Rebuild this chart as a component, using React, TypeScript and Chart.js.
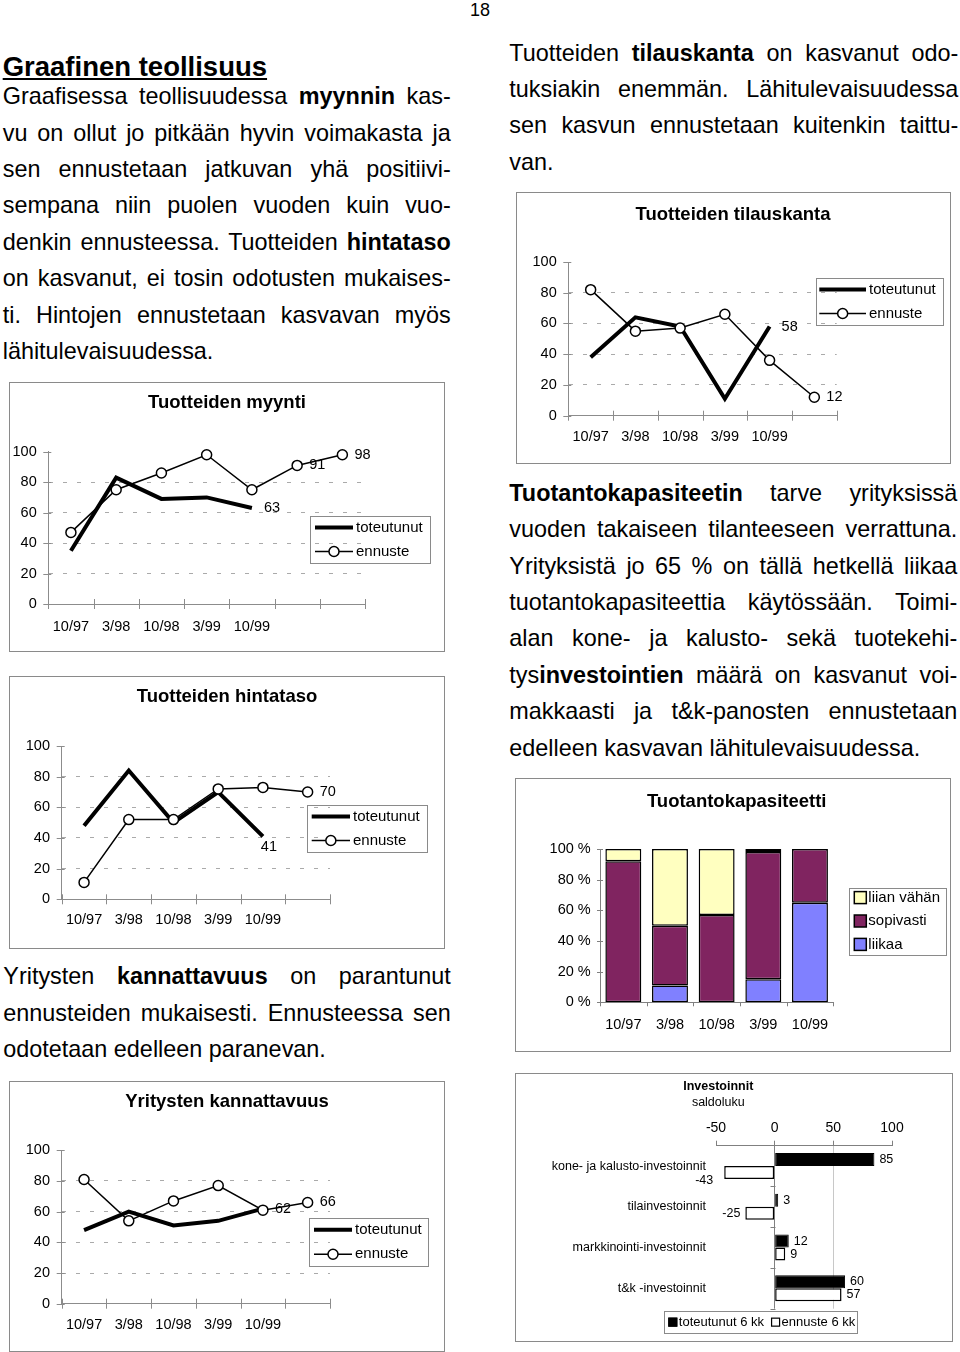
import React, { useEffect, useRef } from 'react';
import { Chart, registerables } from 'chart.js';

Chart.register(...registerables);

const FONT = "'Liberation Sans', Arial, Helvetica, sans-serif";
Chart.defaults.font.family = FONT;
Chart.defaults.color = '#000';

// ---------------- data ----------------
const lineLabels7 = ['10/97', '3/98', '10/98', '3/99', '10/99', '', ''];
const lineLabels6 = ['10/97', '3/98', '10/98', '3/99', '10/99', ''];
const seriesNames = ['toteutunut', 'ennuste'];

const myyntiToteutunut = [35, 83, 69, 70, 63];
const myyntiEnnuste = [47, 75, 86, 98, 75, 91, 98];
const hintaToteutunut = [48, 84, 50, 70, 41];
const hintaEnnuste = [11, 52, 52, 72, 73, 70];
const kannToteutunut = [48, 60, 51, 54, 62];
const kannEnnuste = [81, 54, 67, 77, 61, 66];
const tilausToteutunut = [38, 64, 58, 11, 58];
const tilausEnnuste = [82, 55, 57, 66, 36, 12];

const capCategories = ['10/97', '3/98', '10/98', '3/99', '10/99'];
const capSeries = ['liian vähän', 'sopivasti', 'liikaa'];
const capLiianVahan = [8, 50, 43, 2, 0];
const capSopivasti = [92, 39, 57, 83, 35];
const capLiikaa = [0, 11, 0, 15, 65];

const invCategories = [
  'kone- ja kalusto-investoinnit',
  'tilainvestoinnit',
  'markkinointi-investoinnit',
  't&k -investoinnit',
];
const invSeries = ['toteutunut 6 kk', 'ennuste 6 kk'];
const invToteutunut = [85, 3, 12, 60];
const invEnnuste = [-43, -25, 9, 57];

// which points carry a value label (series index, point index, placement)
const myyntiLabelled = [
  { s: 0, i: 4, pos: 'right' },
  { s: 1, i: 5, pos: 'right' },
  { s: 1, i: 6, pos: 'right' },
];
const hintaLabelled = [
  { s: 0, i: 4, pos: 'below' },
  { s: 1, i: 5, pos: 'right' },
];
const kannLabelled = [
  { s: 0, i: 4, pos: 'right' },
  { s: 1, i: 5, pos: 'right' },
];
const tilausLabelled = [
  { s: 0, i: 4, pos: 'right' },
  { s: 1, i: 5, pos: 'right' },
];

// ---------------- text ----------------
const TEXT_SIZE = 23.4;
const paragraphs = [
  {
    x: 2.7, w: 448, base: 105, step: 36.4,
    lines: [
      'Graafisessa teollisuudessa **myynnin** kas-',
      'vu on ollut jo pitkään hyvin voimakasta ja',
      'sen ennustetaan jatkuvan yhä positiivi-',
      'sempana niin puolen vuoden kuin vuo-',
      'denkin ennusteessa. Tuotteiden **hintataso**',
      'on kasvanut, ei tosin odotusten mukaises-',
      'ti. Hintojen ennustetaan kasvavan myös',
      'lähitulevaisuudessa.',
    ],
  },
  {
    x: 509.3, w: 449, base: 61.7, step: 36.3,
    lines: [
      'Tuotteiden **tilauskanta** on kasvanut odo-',
      'tuksiakin enemmän. Lähitulevaisuudessa',
      'sen kasvun ennustetaan kuitenkin taittu-',
      'van.',
    ],
  },
  {
    x: 509.3, w: 448, base: 501.7, step: 36.4,
    lines: [
      '**Tuotantokapasiteetin** tarve yrityksissä',
      'vuoden takaiseen tilanteeseen verrattuna.',
      'Yrityksistä jo 65 % on tällä hetkellä liikaa',
      'tuotantokapasiteettia käytössään. Toimi-',
      'alan kone- ja kalusto- sekä tuotekehi-',
      'tys**investointien** määrä on kasvanut voi-',
      'makkaasti ja t&k-panosten ennustetaan',
      'edelleen kasvavan lähitulevaisuudessa.',
    ],
  },
  {
    x: 3.3, w: 447.4, base: 985, step: 36.6,
    lines: [
      'Yritysten **kannattavuus** on parantunut',
      'ennusteiden mukaisesti. Ennusteessa sen',
      'odotetaan edelleen paranevan.',
    ],
  },
];

// ---------------- plugins ----------------
const AXIS = '#8c8c8c';
const GRID = '#aaaaaa';

function makeTexts(items: any[]) {
  return {
    id: 'boxTexts',
    afterDraw(chart: any) {
      const ctx = chart.ctx;
      ctx.save();
      ctx.fillStyle = '#000';
      ctx.textAlign = 'center';
      ctx.textBaseline = 'middle';
      for (const t of items) {
        ctx.font = `${t.bold ? 'bold ' : ''}${t.size}px ${FONT}`;
        ctx.fillText(t.text, t.x, t.y);
      }
      ctx.restore();
    },
  };
}

function makeCrossTicks(o: any) {
  return {
    id: 'crossTicks',
    beforeDatasetsDraw(chart: any) {
      const { ctx } = chart;
      const x = chart.scales.x;
      const y = chart.scales.y;
      ctx.save();
      ctx.strokeStyle = o.color;
      ctx.lineWidth = 1;
      ctx.beginPath();
      const n = chart.data.labels.length;
      const step = (x.right - x.left) / n;
      for (let i = 0; i <= n; i++) {
        const px = Math.round(x.left + i * step) + 0.5;
        ctx.moveTo(px, x.top - o.xUp);
        ctx.lineTo(px, x.top + o.xDown);
      }
      for (const t of y.ticks) {
        const py = Math.round(y.getPixelForValue(t.value)) + 0.5;
        ctx.moveTo(y.right - o.yLeft, py);
        ctx.lineTo(y.right + o.yRight, py);
      }
      ctx.stroke();
      ctx.restore();
    },
  };
}

function makeLineLegend(b: any) {
  return {
    id: 'lineLegend',
    afterDraw(chart: any) {
      const ctx = chart.ctx;
      ctx.save();
      ctx.strokeStyle = '#8a8a8a';
      ctx.lineWidth = 1;
      ctx.strokeRect(Math.round(b.x) + 0.5, Math.round(b.y) + 0.5, Math.round(b.w), Math.round(b.h));
      chart.data.datasets.forEach((ds: any, k: number) => {
        const y = b.y + b.h * (k === 0 ? 0.245 : 0.755);
        const x0 = b.x + b.sx;
        const x1 = x0 + b.sample;
        ctx.strokeStyle = '#000';
        ctx.lineWidth = ds.borderWidth;
        ctx.lineCap = 'butt';
        ctx.beginPath();
        ctx.moveTo(x0, y);
        ctx.lineTo(x1, y);
        ctx.stroke();
        if (ds.pointRadius > 0) {
          ctx.beginPath();
          ctx.arc((x0 + x1) / 2, y, ds.pointRadius, 0, Math.PI * 2);
          ctx.fillStyle = '#fff';
          ctx.fill();
          ctx.lineWidth = ds.pointBorderWidth;
          ctx.stroke();
        }
        ctx.fillStyle = '#000';
        ctx.font = `15px ${FONT}`;
        ctx.textAlign = 'left';
        ctx.textBaseline = 'middle';
        ctx.fillText(ds.label, x1 + 3, y);
      });
      ctx.restore();
    },
  };
}

function makePointLabels(items: any[]) {
  return {
    id: 'pointLabels',
    afterDatasetsDraw(chart: any) {
      const ctx = chart.ctx;
      ctx.save();
      ctx.fillStyle = '#000';
      ctx.font = `14.5px ${FONT}`;
      for (const it of items) {
        const el = chart.getDatasetMeta(it.s).data[it.i];
        const v = chart.data.datasets[it.s].data[it.i];
        if (!el) continue;
        if (it.pos === 'below') {
          ctx.textAlign = 'center';
          ctx.textBaseline = 'top';
          ctx.fillText(String(v), el.x + 6, el.y + 3);
        } else {
          ctx.textAlign = 'left';
          ctx.textBaseline = 'middle';
          ctx.fillText(String(v), el.x + 12, el.y);
        }
      }
      ctx.restore();
    },
  };
}

function makeSquareLegendV(b: any) {
  return {
    id: 'squareLegendV',
    afterDraw(chart: any) {
      const ctx = chart.ctx;
      ctx.save();
      ctx.strokeStyle = '#8a8a8a';
      ctx.lineWidth = 1;
      ctx.strokeRect(Math.round(b.x) + 0.5, Math.round(b.y) + 0.5, Math.round(b.w), Math.round(b.h));
      const ds = chart.data.datasets.slice().reverse();
      ds.forEach((d: any, k: number) => {
        const cy = b.y + b.h / 2 + (k - (ds.length - 1) / 2) * b.rowStep;
        const sq = b.square;
        const sx = b.x + b.sx;
        ctx.fillStyle = d.backgroundColor;
        ctx.fillRect(sx, cy - sq / 2, sq, sq);
        ctx.strokeStyle = '#000';
        ctx.lineWidth = 1.5;
        ctx.strokeRect(sx, cy - sq / 2, sq, sq);
        ctx.fillStyle = '#000';
        ctx.font = `${b.size}px ${FONT}`;
        ctx.textAlign = 'left';
        ctx.textBaseline = 'middle';
        ctx.fillText(d.label, sx + sq + 2, cy);
      });
      ctx.restore();
    },
  };
}

function makeSquareLegendH(b: any) {
  return {
    id: 'squareLegendH',
    afterDraw(chart: any) {
      const ctx = chart.ctx;
      ctx.save();
      ctx.strokeStyle = '#8a8a8a';
      ctx.lineWidth = 1;
      ctx.strokeRect(Math.round(b.x) + 0.5, Math.round(b.y) + 0.5, Math.round(b.w), Math.round(b.h));
      ctx.font = `${b.size}px ${FONT}`;
      const cy = b.y + b.h / 2;
      let x = b.x + b.sx;
      chart.data.datasets.forEach((d: any) => {
        const sq = b.square;
        ctx.fillStyle = d.backgroundColor;
        ctx.fillRect(x, cy - sq / 2, sq, sq);
        ctx.strokeStyle = '#000';
        ctx.lineWidth = 1.2;
        ctx.strokeRect(x + 0.5, cy - sq / 2 + 0.5, sq - 1, sq - 1);
        ctx.fillStyle = '#000';
        ctx.textAlign = 'left';
        ctx.textBaseline = 'middle';
        const tx = x + sq + 1.5;
        ctx.fillText(d.label, tx, cy);
        x = tx + ctx.measureText(d.label).width + 7;
      });
      ctx.restore();
    },
  };
}

const barValueLabels = {
  id: 'barValueLabels',
  afterDatasetsDraw(chart: any) {
    const ctx = chart.ctx;
    const area = chart.chartArea;
    ctx.save();
    ctx.fillStyle = '#000';
    ctx.font = `12.5px ${FONT}`;
    chart.data.datasets.forEach((ds: any, d: number) => {
      const meta = chart.getDatasetMeta(d);
      meta.data.forEach((el: any, i: number) => {
        const v = ds.data[i];
        const txt = String(v);
        if (v >= 0) {
          ctx.textAlign = 'left';
          ctx.textBaseline = 'middle';
          ctx.fillText(txt, el.x + 5, el.y);
        } else {
          const wTxt = ctx.measureText(txt).width;
          ctx.textAlign = 'right';
          if (el.x - 5 - wTxt < area.left) {
            // no room beside the bar end: put the label under it
            ctx.textBaseline = 'middle';
            ctx.fillText(txt, el.x - 11, el.y + 8);
          } else {
            ctx.textBaseline = 'middle';
            ctx.fillText(txt, el.x - 5, el.y);
          }
        }
      });
    });
    ctx.restore();
  },
};

const zeroLineTicks = {
  id: 'zeroLineTicks',
  beforeDatasetsDraw(chart: any) {
    const { ctx } = chart;
    const x = chart.scales.x;
    const y = chart.scales.y;
    const x0 = Math.round(x.getPixelForValue(0)) + 0.5;
    const n = chart.data.labels.length;
    const step = (y.bottom - y.top) / n;
    ctx.save();
    ctx.strokeStyle = '#808080';
    ctx.lineWidth = 1;
    ctx.beginPath();
    for (let i = 1; i <= n; i++) {
      const py = Math.round(y.top + i * step) + 0.5;
      ctx.moveTo(x0 - 5, py);
      ctx.lineTo(x0, py);
    }
    ctx.stroke();
    ctx.restore();
  },
};

// ---------------- chart configs ----------------
function lineConfig(s: any) {
  const XH = 30;
  return {
    type: 'line',
    data: {
      labels: s.labels,
      datasets: [
        {
          label: seriesNames[0], data: s.tot, borderColor: '#000', backgroundColor: '#000',
          borderWidth: 4, pointRadius: 0, pointHoverRadius: 0, borderCapStyle: 'butt',
          borderJoinStyle: 'miter', tension: 0, fill: false, order: 1, clip: false,
        },
        {
          label: seriesNames[1], data: s.enn, borderColor: '#000', backgroundColor: '#fff',
          borderWidth: 1.5, pointRadius: 5, pointHoverRadius: 5, pointBorderWidth: 1.5,
          pointBackgroundColor: '#fff', pointBorderColor: '#000', tension: 0, fill: false, order: 0,
          clip: false,
        },
      ],
    },
    options: {
      animation: false,
      responsive: false,
      maintainAspectRatio: false,
      events: [],
      layout: { padding: { left: 0, top: s.pad.top, right: s.pad.right, bottom: s.pad.bottom - XH } },
      scales: {
        x: {
          type: 'category', offset: true,
          grid: { display: false, drawTicks: false, offset: true },
          border: { display: true, color: AXIS, width: 1 },
          ticks: { color: '#000', font: { size: 14.5, family: FONT }, padding: s.xPad, maxRotation: 0, minRotation: 0, autoSkip: false },
          afterFit: (sc: any) => { sc.height = XH; },
        },
        y: {
          type: 'linear', min: 0, max: 100,
          ticks: { stepSize: 20, color: '#000', font: { size: 14.5, family: FONT }, padding: s.yPad },
          grid: {
            drawTicks: false, lineWidth: 1,
            color: (c: any) => (c.tick && c.tick.value > 0 && c.tick.value < 100 ? GRID : 'rgba(0,0,0,0)'),
          },
          border: { display: true, color: AXIS, width: 1, dash: [4, 10] },
          afterFit: (sc: any) => { sc.width = s.pad.left; },
        },
      },
      plugins: { legend: { display: false }, tooltip: { enabled: false }, title: { display: false } },
    },
    plugins: [
      makeCrossTicks({ color: AXIS, xUp: 5, xDown: 5, yLeft: 5, yRight: 3 }),
      makeTexts([{ text: s.title, x: s.titleX, y: s.titleY, size: 18.5, bold: true }]),
      makePointLabels(s.labelled),
      makeLineLegend(s.legend),
    ],
  };
}

function capConfig() {
  const XH = 30;
  const base = { borderColor: '#000', borderWidth: 1.5, borderSkipped: false, categoryPercentage: 0.77, barPercentage: 1 };
  return {
    type: 'bar',
    data: {
      labels: capCategories,
      datasets: [
        { ...base, label: capSeries[2], data: capLiikaa, backgroundColor: '#8080FF' },
        { ...base, label: capSeries[1], data: capSopivasti, backgroundColor: '#802460' },
        { ...base, label: capSeries[0], data: capLiianVahan, backgroundColor: '#FFFFC0' },
      ],
    },
    options: {
      animation: false,
      responsive: false,
      maintainAspectRatio: false,
      events: [],
      layout: { padding: { left: 0, top: 70, right: 116.7, bottom: 48.7 - XH } },
      scales: {
        x: {
          stacked: true,
          grid: { display: false, drawTicks: false },
          border: { display: true, color: '#808080', width: 1 },
          ticks: { color: '#000', font: { size: 14.5, family: FONT }, padding: 14, maxRotation: 0, autoSkip: false },
          afterFit: (sc: any) => { sc.height = XH; },
        },
        y: {
          stacked: true, min: 0, max: 100,
          ticks: { stepSize: 20, color: '#000', font: { size: 14.5, family: FONT }, padding: 9.3, callback: (v: any) => `${v} %` },
          grid: { display: false, drawTicks: false },
          border: { display: true, color: '#808080', width: 1 },
          afterFit: (sc: any) => { sc.width = 84; },
        },
      },
      plugins: { legend: { display: false }, tooltip: { enabled: false }, title: { display: false } },
    },
    plugins: [
      makeCrossTicks({ color: '#808080', xUp: 0, xDown: 4, yLeft: 3, yRight: 3 }),
      makeTexts([{ text: 'Tuotantokapasiteetti', x: 220.7, y: 22.7, size: 18.5, bold: true }]),
      makeSquareLegendV({ x: 333, y: 108.7, w: 96.7, h: 66.6, sx: 5.3, square: 12, rowStep: 23.4, size: 15 }),
    ],
  };
}

function invConfig() {
  const XH = 30;
  return {
    type: 'bar',
    data: {
      labels: invCategories,
      datasets: [
        { label: invSeries[0], data: invToteutunut, backgroundColor: '#000', borderColor: '#000', borderWidth: 1, borderSkipped: false, categoryPercentage: 0.64, barPercentage: 1 },
        { label: invSeries[1], data: invEnnuste, backgroundColor: '#fff', borderColor: '#000', borderWidth: 1.5, borderSkipped: false, categoryPercentage: 0.64, barPercentage: 1 },
      ],
    },
    options: {
      indexAxis: 'y',
      animation: false,
      responsive: false,
      maintainAspectRatio: false,
      events: [],
      layout: { padding: { left: 0, top: 71.7 - XH, right: 60, bottom: 32.3 } },
      scales: {
        x: {
          type: 'linear', position: 'top', min: -50, max: 100,
          ticks: { stepSize: 50, color: '#000', font: { size: 14, family: FONT }, padding: 4.3 },
          grid: {
            drawTicks: true, tickLength: 5, tickColor: '#808080', lineWidth: 1,
            color: (c: any) => {
              if (!c.tick) return 'rgba(0,0,0,0)';
              if (c.tick.value === 0) return '#808080';
              if (c.tick.value === 50) return '#c8c8c8';
              return 'rgba(0,0,0,0)';
            },
          },
          border: { display: true, color: '#808080', width: 1 },
          afterFit: (sc: any) => { sc.height = XH; },
        },
        y: {
          type: 'category',
          grid: { display: false, drawTicks: false },
          border: { display: false },
          ticks: { color: '#000', font: { size: 12.5, family: FONT }, padding: 10, autoSkip: false },
          afterFit: (sc: any) => { sc.width = 200; },
        },
      },
      plugins: { legend: { display: false }, tooltip: { enabled: false }, title: { display: false } },
    },
    plugins: [
      zeroLineTicks,
      barValueLabels,
      makeTexts([
        { text: 'Investoinnit', x: 202.3, y: 12.3, size: 12.5, bold: true },
        { text: 'saldoluku', x: 202.3, y: 28.3, size: 12.5, bold: false },
      ]),
      makeSquareLegendH({ x: 148.3, y: 237.3, w: 193.4, h: 21.7, sx: 4, square: 9, size: 13 }),
    ],
  };
}

// ---------------- components ----------------
function ChartBox({ box, make }: any) {
  const ref = useRef<HTMLCanvasElement>(null);
  const w = box.w - 2;
  const h = box.h - 2;
  useEffect(() => {
    const chart = new Chart(ref.current as HTMLCanvasElement, make() as any);
    return () => chart.destroy();
  }, []);
  return (
    <div
      style={{
        position: 'absolute', left: box.x, top: box.y, width: w, height: h,
        border: '1px solid #8a8a8a', background: '#fff',
      }}
    >
      <canvas ref={ref} width={w} height={h} style={{ display: 'block', width: w, height: h }} />
    </div>
  );
}

function renderSegs(line: string) {
  return line.split('**').map((p, i) =>
    i % 2 === 1 ? <b key={i}>{p}</b> : <React.Fragment key={i}>{p}</React.Fragment>
  );
}

function Paragraph({ p }: any) {
  return (
    <>
      {p.lines.map((ln: string, k: number) => {
        const last = k === p.lines.length - 1;
        return (
          <div
            key={k}
            style={{
              position: 'absolute', left: p.x, top: p.base + k * p.step - 0.8465 * TEXT_SIZE,
              width: p.w, fontSize: TEXT_SIZE, lineHeight: 1, fontFamily: FONT, color: '#000',
              textAlign: last ? 'left' : 'justify', textAlignLast: last ? 'left' : 'justify',
            } as any}
          >
            {renderSegs(ln)}
          </div>
        );
      })}
    </>
  );
}

export default function App() {
  return (
    <div
      style={{
        position: 'absolute', left: 0, top: 0, width: 960, height: 1352,
        background: '#fff', overflow: 'hidden', fontFamily: FONT, color: '#000',
      }}
    >
      <div style={{ position: 'absolute', left: 0, top: 0.8, width: 960, textAlign: 'center', fontSize: 18, lineHeight: 1 }}>
        18
      </div>
      <div
        style={{
          position: 'absolute', left: 2.7, top: 76.7 - 0.8465 * 27.5, fontSize: 27.5, lineHeight: 1,
          fontWeight: 'bold', textDecoration: 'underline', whiteSpace: 'nowrap',
        }}
      >
        Graafinen teollisuus
      </div>
      {paragraphs.map((p, i) => (
        <Paragraph key={i} p={p} />
      ))}

      <ChartBox
        box={{ x: 9, y: 382, w: 436, h: 270 }}
        make={() =>
          lineConfig({
            labels: lineLabels7, tot: myyntiToteutunut, enn: myyntiEnnuste, labelled: myyntiLabelled,
            pad: { left: 38.3, top: 68.7, right: 79, bottom: 47 }, xPad: 14, yPad: 11.6,
            title: 'Tuotteiden myynti', titleX: 217, titleY: 20,
            legend: { x: 300, y: 133, w: 120, h: 47, sx: 5, sample: 38 },
          })
        }
      />
      <ChartBox
        box={{ x: 9, y: 676, w: 436, h: 273 }}
        make={() =>
          lineConfig({
            labels: lineLabels6, tot: hintaToteutunut, enn: hintaEnnuste, labelled: hintaLabelled,
            pad: { left: 51.7, top: 69, right: 114, bottom: 48.7 }, xPad: 12, yPad: 11.7,
            title: 'Tuotteiden hintataso', titleX: 217, titleY: 20,
            legend: { x: 297, y: 128, w: 120, h: 47, sx: 4.7, sample: 38.3 },
          })
        }
      />
      <ChartBox
        box={{ x: 9, y: 1081, w: 436, h: 271 }}
        make={() =>
          lineConfig({
            labels: lineLabels6, tot: kannToteutunut, enn: kannEnnuste, labelled: kannLabelled,
            pad: { left: 51.7, top: 68.3, right: 114, bottom: 47.3 }, xPad: 12.6, yPad: 11.7,
            title: 'Yritysten kannattavuus', titleX: 217, titleY: 20,
            legend: { x: 299, y: 136, w: 119, h: 48, sx: 5, sample: 38 },
          })
        }
      />
      <ChartBox
        box={{ x: 516, y: 192, w: 435, h: 272 }}
        make={() =>
          lineConfig({
            labels: lineLabels6, tot: tilausToteutunut, enn: tilausEnnuste, labelled: tilausLabelled,
            pad: { left: 51.3, top: 69, right: 113.3, bottom: 47.3 }, xPad: 12.6, yPad: 11.6,
            title: 'Tuotteiden tilauskanta', titleX: 216, titleY: 22,
            legend: { x: 299, y: 85, w: 127, h: 47, sx: 3.3, sample: 46.7 },
          })
        }
      />
      <ChartBox box={{ x: 515, y: 778, w: 436, h: 274 }} make={capConfig} />
      <ChartBox box={{ x: 515, y: 1073, w: 438, h: 269 }} make={invConfig} />
    </div>
  );
}
